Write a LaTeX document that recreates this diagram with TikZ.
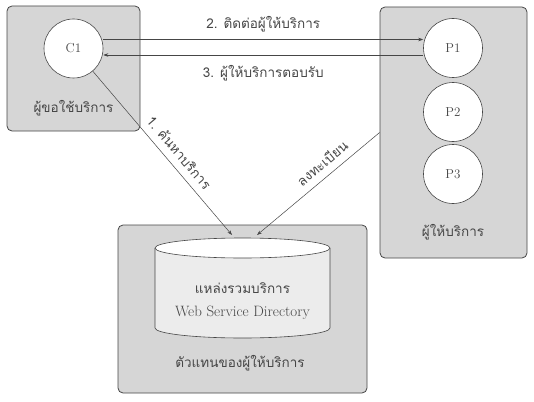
\documentclass[tikz,border=0pt]{standalone}
\usepackage{fontspec}
\newfontfamily\thaifont[Script=Thai]{Loma}
\definecolor{boxgray}{RGB}{214, 214, 214}
\definecolor{cylgray}{RGB}{236, 236, 236}
\definecolor{ink}{RGB}{70, 70, 70}
\usetikzlibrary{positioning}
\usetikzlibrary{arrows.meta}

\begin{document}
\begin{tikzpicture}[
  >={Stealth[length=5pt, width=3.5pt]},
  box/.style={rectangle, rounded corners=5pt, fill=boxgray, draw=ink, line width=0.8pt},
  party/.style={circle, minimum size=59pt, inner sep=0pt, fill=white, draw=ink, line width=0.6pt, text=ink, font=\fontsize{13}{15}\selectfont},
  thai/.style={text=ink, font=\thaifont\fontsize{13.5}{15}\selectfont},
  link/.style={line width=0.5pt, color=ink}
]
\useasboundingbox (0pt, 0pt) rectangle (534pt, -401pt);
\node (cbox) [box, minimum width=133pt, minimum height=125pt] at (73.5pt, -68.5pt)  {};
\node (pbox) [box, minimum width=147pt, minimum height=251pt] at (453.5pt, -132.5pt)  {};
\node (dbox) [box, minimum width=249pt, minimum height=168pt] at (242.5pt, -309.0pt)  {};
\node (c1) [party] at (73.5pt, -48.5pt)  {C1};
\node (p1) [party] at (453.0pt, -48.0pt)  {P1};
\node (p2) [party] at (453.0pt, -112.0pt)  {P2};
\node (p3) [party] at (453.0pt, -174.0pt)  {P3};
\node (clabel) [thai] at (73.5pt, -108.0pt)  {ผู้ขอใช้บริการ};
\node (plabel) [thai] at (453.0pt, -232.0pt)  {ผู้ให้บริการ};
\node (dlabel) [thai] at (240.0pt, -363.0pt)  {ตัวแทนของผู้ให้บริการ};
% directory drum
\filldraw [fill=cylgray, draw=ink, line width=0.6pt] (155pt, -248pt) -- (155pt, -328pt) arc [start angle=180, end angle=360, x radius=87.5pt, y radius=10pt] -- (330pt, -248pt);
\filldraw [fill=white, draw=ink, line width=0.6pt] (242.5pt, -248pt) ellipse [x radius=87.5pt, y radius=10pt];
\node (dirth) [thai] at (242.5pt, -288.0pt)  {แหล่งรวมบริการ};
\node (diren) [text=ink, font=\fontsize{15}{17}\selectfont] at (242.5pt, -313.0pt)  {Web Service Directory};
\coordinate (dirin1) at (232pt, -235pt);
\coordinate (dirin2) at (257pt, -235pt);
\draw [link, ->] (c1.east |- 0pt, -39.5pt) to node [thai, above=4pt] {2. ติดต่อผู้ให้บริการ} (p1.west |- 0pt, -39.5pt);
\draw [link, ->] (p1.west |- 0pt, -55.0pt) to node [thai, below=7pt] {3. ผู้ให้บริการตอบรับ} (c1.east |- 0pt, -55.0pt);
\draw [link, ->] (c1) to node [thai, sloped, above=4pt, pos=0.55] {1. ค้นหาบริการ} (dirin1);
\draw [link, <-] (dirin2) to node [thai, sloped, above=4pt, pos=0.6] {ลงทะเบียน} (pbox.west);
\end{tikzpicture}
\end{document}
